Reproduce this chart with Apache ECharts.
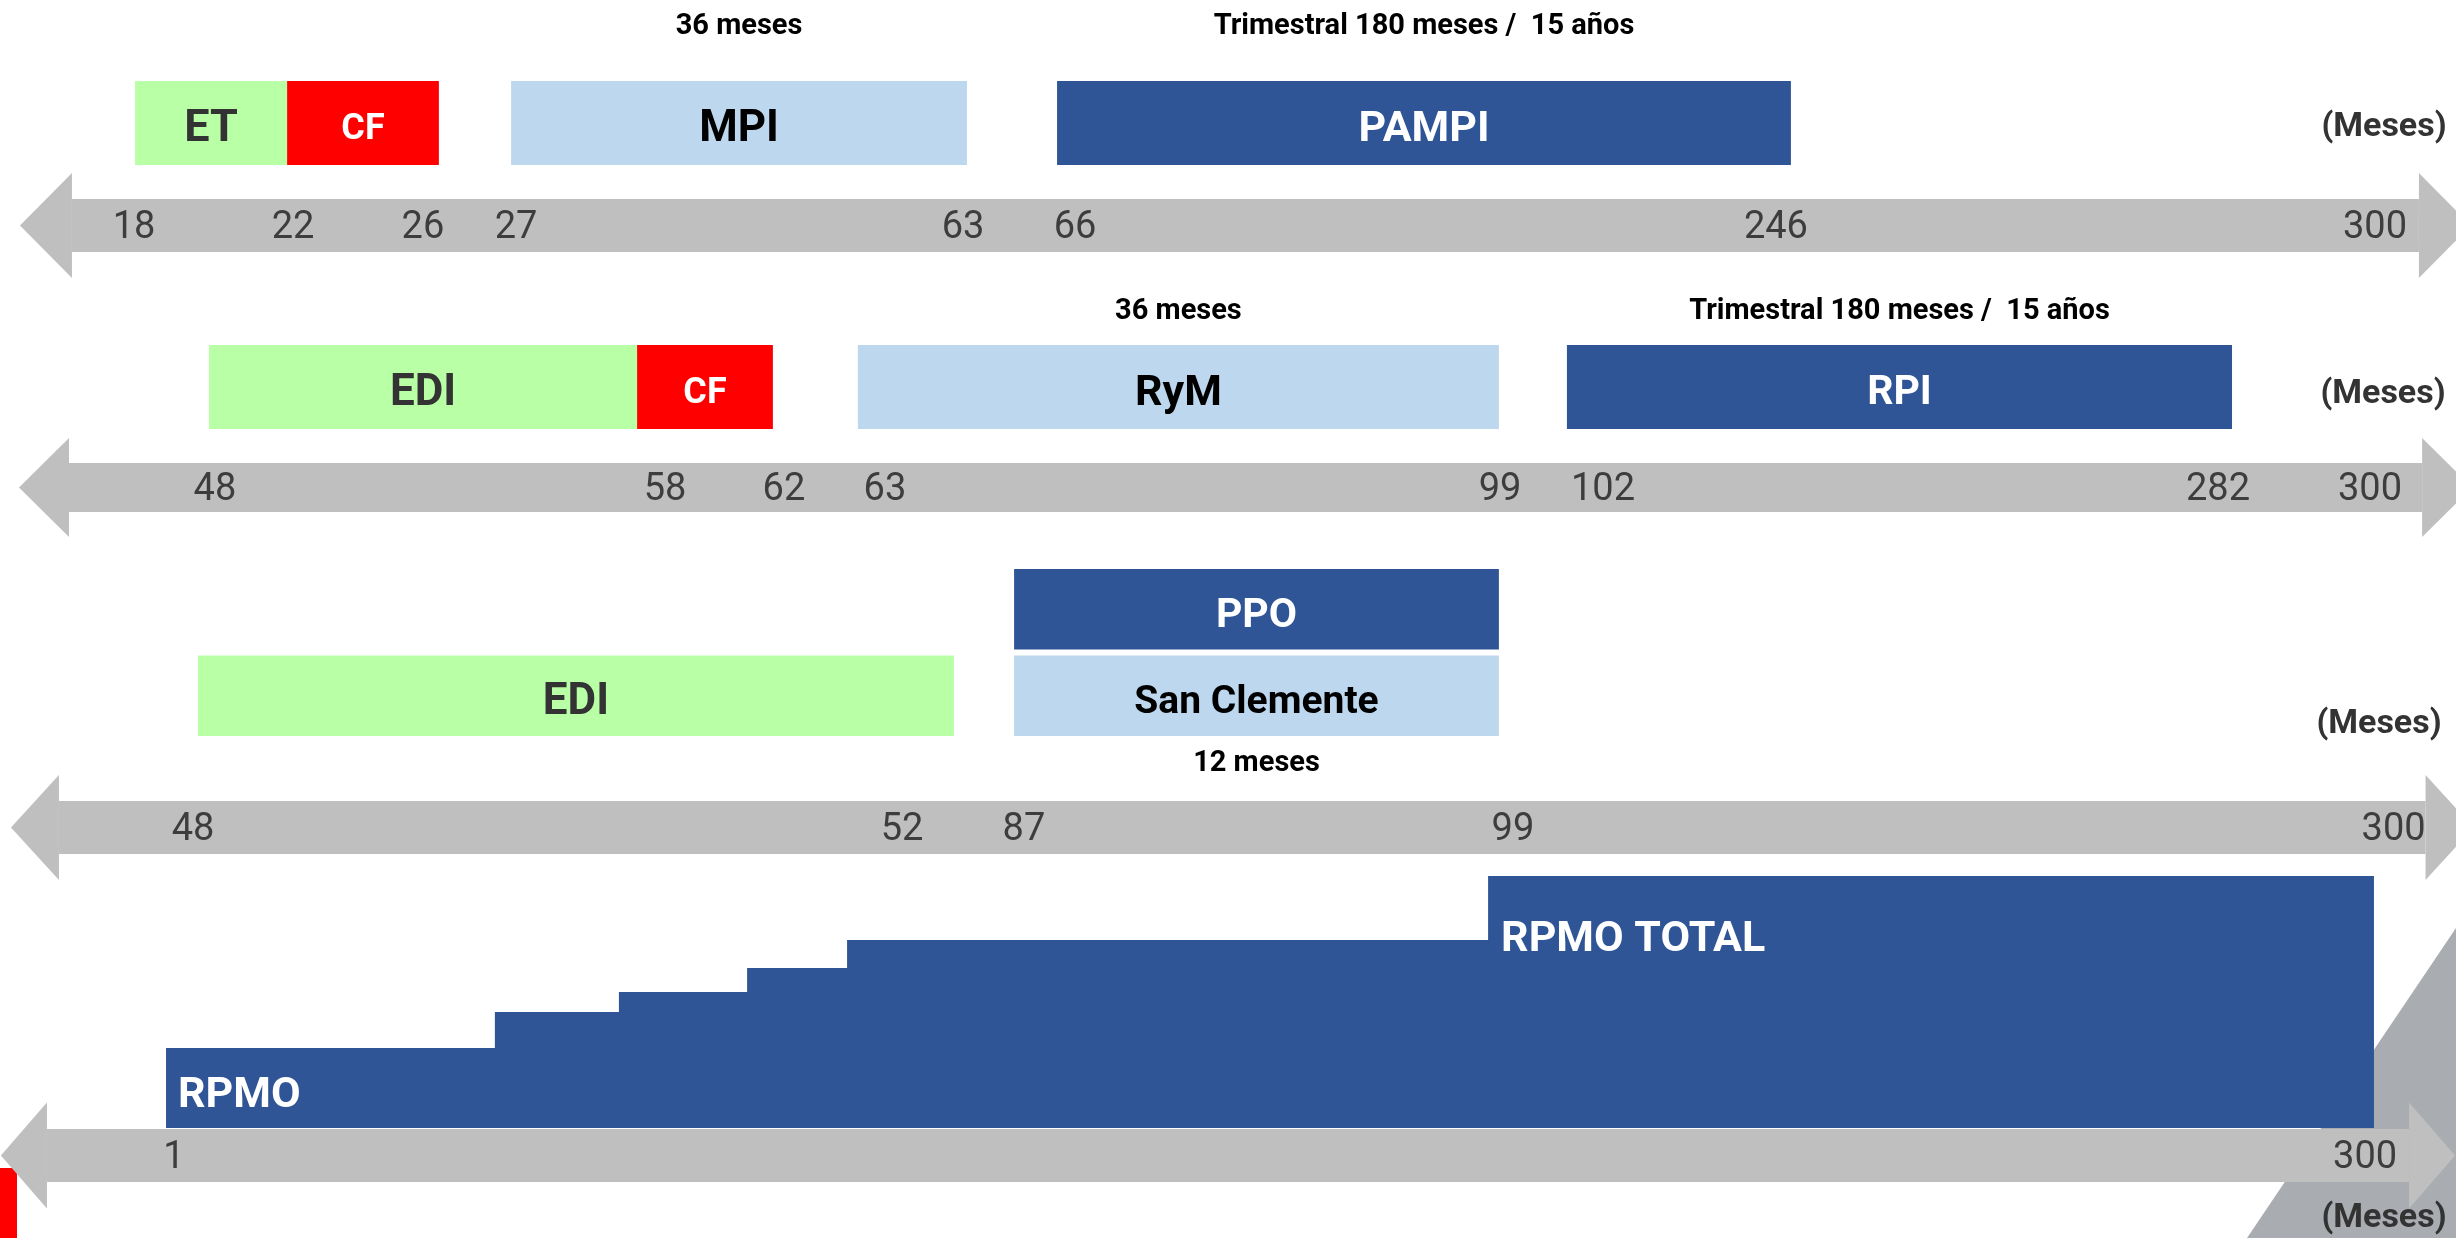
<!DOCTYPE html>
<html>
<head>
<meta charset="utf-8">
<title>Cronograma</title>
<script src="https://cdn.jsdelivr.net/npm/echarts@6/dist/echarts.min.js"></script>
<style>
  html, body { margin: 0; padding: 0; background: #ffffff; }
  #chart { width: 2456px; height: 1238px; }
</style>
</head>
<body>
<div id="chart"></div>
<script>
// ================= DATA =================
// Timeline units: position along the (schematic, non-proportional) arrow, 0..1000 across the slide.
const row1TickLabels = ['18', '22', '26', '27', '63', '66', '246', '300'];
const row1TickPos    = [54.6, 119.3, 172.2, 210.1, 392.1, 437.7, 723.1, 967.0];
const row1Bars = [
  { name: 'ET',    from: 55.0,  to: 116.9, lane: 'main', kind: 'estudio' },
  { name: 'CF',    from: 116.9, to: 178.7, lane: 'main', kind: 'cf' },
  { name: 'MPI',   from: 208.1, to: 393.7, lane: 'main', kind: 'mant', note: '36 meses' },
  { name: 'PAMPI', from: 430.4, to: 729.2, lane: 'main', kind: 'plan', note: 'Trimestral 180 meses /  15 años' }
];

const row2TickLabels = ['48', '58', '62', '63', '99', '102', '282', '300'];
const row2TickPos    = [87.5, 270.8, 319.2, 360.3, 610.8, 652.7, 903.1, 965.0];
const row2Bars = [
  { name: 'EDI', from: 85.1,  to: 259.4, lane: 'main', kind: 'estudio' },
  { name: 'CF',  from: 259.4, to: 314.7, lane: 'main', kind: 'cf' },
  { name: 'RyM', from: 349.3, to: 610.3, lane: 'main', kind: 'mant', note: '36 meses' },
  { name: 'RPI', from: 638.0, to: 908.8, lane: 'main', kind: 'plan', note: 'Trimestral 180 meses /  15 años' }
];

const row3TickLabels = ['48', '52', '87', '99', '300'];
const row3TickPos    = [78.6, 367.3, 416.9, 616.0, 974.6];
const row3Bars = [
  { name: 'EDI',          from: 80.6,  to: 388.4, lane: 'lower', kind: 'estudio' },
  { name: 'PPO',          from: 412.9, to: 610.3, lane: 'upper', kind: 'plan' },
  { name: 'San Clemente', from: 412.9, to: 610.3, lane: 'lower', kind: 'mant', note: '12 meses' }
];

const row4TickLabels = ['1', '300'];
const row4TickPos    = [70.8, 963.0];
// RPMO cumulative staircase: step edges (7) and the level of each step (6)
const rpmoStepEdges = [67.6, 201.5, 252.0, 304.2, 344.9, 605.9, 966.6];
const rpmoStepLevel = [80, 116, 136, 160, 188, 252];
const rpmoStepLabel = ['RPMO', '', '', '', '', 'RPMO TOTAL'];

const unitLabel = '(Meses)';

// ================= STYLE / LAYOUT =================
const FONT = "Roboto, 'Noto Sans', 'DejaVu Sans', sans-serif";
const kindStyle = {
  estudio: { fill: '#b8ffa6', text: '#333333' },
  cf:      { fill: '#ff0000', text: '#ffffff' },
  mant:    { fill: '#bdd7ee', text: '#000000' },
  plan:    { fill: '#2f5597', text: '#ffffff' }
};
const labelSize = { 'ET': 45, 'CF': 36, 'MPI': 44, 'PAMPI': 43, 'EDI': 44, 'RyM': 43, 'RPI': 41, 'PPO': 41, 'San Clemente': 39 };
const DEFAULT_LABEL = 43;

const rows = [
  { ticks: row1TickPos, labels: row1TickLabels, bars: row1Bars, lanes: ['main'],
    top: 81, height: 84, axisY: 225.5, band: 53, head: [105, 52], ends: [29.3, 984.9],
    fill: 1.0, noteSide: 'top', noteGap: 54, unitX: 2384, unitY: 127 },
  { ticks: row2TickPos, labels: row2TickLabels, bars: row2Bars, lanes: ['main'],
    top: 345, height: 84, axisY: 487.5, band: 49, head: [99, 50], ends: [28.1, 986.2],
    fill: 1.0, noteSide: 'top', noteGap: 33, unitX: 2383, unitY: 394 },
  { ticks: row3TickPos, labels: row3TickLabels, bars: row3Bars, lanes: ['lower', 'upper'],
    top: 566, height: 173, axisY: 827.5, band: 53, head: [105, 48], ends: [24.0, 987.6],
    fill: 0.93, noteSide: 'bottom', noteGap: 28, unitX: 2379, unitY: 724 },
  { ticks: row4TickPos, labels: row4TickLabels, bars: null, lanes: null,
    top: 828, height: 300, axisY: 1155.5, band: 53, head: [106, 46], ends: [19.1, 980.9],
    fill: 1.0, noteSide: null, noteGap: 0, unitX: 2384, unitY: 1218 }
];
const rpmoLabelOffset = { 'RPMO': [12, 48], 'RPMO TOTAL': [13, 64] };

// ================= CHART =================
const chart = echarts.init(document.getElementById('chart'), null, { renderer: 'canvas' });
const W = chart.getWidth();
const U = W / 1000; // px per timeline unit

const grids = [], xAxes = [], yAxes = [], series = [], unitTexts = [];

rows.forEach((r, i) => {
  const leftPx = r.ends[0] * U;
  const rightPx = W - r.ends[1] * U;
  const gridBottom = r.top + r.height;
  grids.push({ left: leftPx, right: rightPx, top: r.top, height: r.height, outerBoundsMode: 'none', containLabel: false });

  xAxes.push({
    gridIndex: i, type: 'value', min: r.ends[0], max: r.ends[1], position: 'bottom',
    offset: r.axisY - gridBottom,
    axisLine: {
      show: true, onZero: false,
      lineStyle: { color: '#bfbfbf', width: r.band, cap: 'butt' },
      symbol: ['triangle', 'triangle'],
      symbolSize: [r.head[0], r.head[1]],
      symbolOffset: [-r.head[1] / 2, r.head[1] / 2]
    },
    axisTick: { show: false },
    splitLine: { show: false },
    axisLabel: {
      show: true,
      customValues: r.ticks,
      margin: 3,
      verticalAlign: 'middle',
      color: '#3d3d3d',
      fontSize: 38,
      fontFamily: FONT,
      formatter: function (v) {
        for (let k = 0; k < r.ticks.length; k++) {
          if (Math.abs(r.ticks[k] - v) < 1e-6) return r.labels[k];
        }
        return '';
      }
    }
  });

  unitTexts.push({
    type: 'text', silent: true, z: 5,
    x: r.unitX, y: r.unitY,
    style: { text: unitLabel, fill: '#333333', fontSize: 34, fontWeight: 'bold', fontFamily: FONT,
             align: 'center', verticalAlign: 'middle' }
  });

  if (r.bars) {
    yAxes.push({ gridIndex: i, type: 'category', data: r.lanes, show: false,
      axisLine: { show: false }, axisTick: { show: false }, splitLine: { show: false } });
    const bars = r.bars;
    series.push({
      type: 'custom',
      xAxisIndex: i, yAxisIndex: i,
      silent: true,
      clip: false,
      encode: { x: [0, 1], y: 2 },
      data: bars.map(b => [b.from, b.to, r.lanes.indexOf(b.lane)]),
      renderItem: function (params, api) {
        const b = bars[params.dataIndex];
        const lane = api.value(2);
        const p0 = api.coord([api.value(0), lane]);
        const p1 = api.coord([api.value(1), lane]);
        const h = api.size([0, 1])[1] * r.fill;
        const st = kindStyle[b.kind];
        const cx = (p0[0] + p1[0]) / 2;
        const children = [
          { type: 'rect', shape: { x: p0[0], y: p0[1] - h / 2, width: p1[0] - p0[0], height: h },
            style: { fill: st.fill } },
          { type: 'text', x: cx, y: p0[1] + 7, z2: 10,
            style: { text: b.name, fill: st.text, fontSize: labelSize[b.name] || DEFAULT_LABEL,
                     fontWeight: 'bold', fontFamily: FONT, align: 'center', verticalAlign: 'middle' } }
        ];
        if (b.note) {
          const ny = r.noteSide === 'top' ? p0[1] - h / 2 - r.noteGap : p0[1] + h / 2 + r.noteGap;
          children.push({ type: 'text', x: cx, y: ny, z2: 10,
            style: { text: b.note, fill: '#000000', fontSize: 29, fontWeight: 'bold', fontFamily: FONT,
                     align: 'center', verticalAlign: 'middle' } });
        }
        return { type: 'group', children: children };
      }
    });
  } else {
    yAxes.push({ gridIndex: i, type: 'value', min: 0, max: r.height, show: false,
      axisLine: { show: false }, axisTick: { show: false }, splitLine: { show: false } });
    series.push({
      type: 'custom', xAxisIndex: i, yAxisIndex: i, silent: true, clip: false,
      encode: { x: [0, 1], y: 2 },
      data: rpmoStepLevel.map((lv, k) => [rpmoStepEdges[k], rpmoStepEdges[k + 1], lv]),
      renderItem: function (params, api) {
        const k = params.dataIndex;
        const pTop = api.coord([api.value(0), api.value(2)]);
        const pBot = api.coord([api.value(1), 0]);
        const last = k === rpmoStepLevel.length - 1;
        const children = [{
          type: 'rect',
          shape: { x: pTop[0], y: pTop[1], width: pBot[0] - pTop[0] + (last ? 0 : 1), height: pBot[1] - pTop[1] },
          style: { fill: '#2f5597' }
        }];
        const t = rpmoStepLabel[k];
        if (t) {
          const off = rpmoLabelOffset[t];
          children.push({ type: 'text', x: pTop[0] + off[0], y: pTop[1] + off[1], z2: 10,
            style: { text: t, fill: '#ffffff', fontSize: 43, fontWeight: 'bold', fontFamily: FONT,
                     align: 'left', verticalAlign: 'middle' } });
        }
        return { type: 'group', children: children };
      }
    });
  }
});

const option = {
  backgroundColor: '#ffffff',
  animation: false,
  graphic: {
    elements: [
      { type: 'polygon', z: -1, silent: true,
        shape: { points: [[W, 928], [W, 1238], [W - 209, 1238]] },
        style: { fill: '#a9acb1' } },
      { type: 'rect', z: -1, silent: true,
        shape: { x: 0, y: 1168, width: 17, height: 70 },
        style: { fill: '#ff0000' } }
    ].concat(unitTexts)
  },
  grid: grids,
  xAxis: xAxes,
  yAxis: yAxes,
  series: series
};
chart.setOption(option);
</script>
</body>
</html>
